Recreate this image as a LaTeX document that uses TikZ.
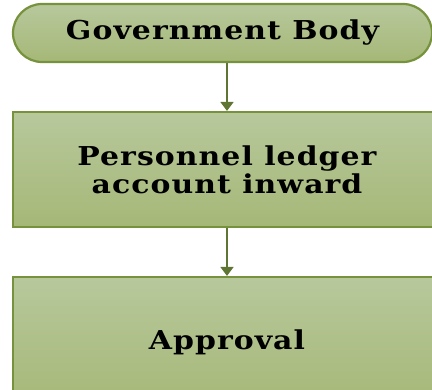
\documentclass[tikz,border=0pt]{standalone}
\usepackage{fontspec}
\setmainfont{DejaVu Serif}[FakeStretch=1.15, LetterSpace=4]
\usetikzlibrary{arrows.meta}
\definecolor{edge}{HTML}{76923C}
\definecolor{filltop}{HTML}{B7C89C}
\definecolor{fillbot}{HTML}{A6B877}
\definecolor{link}{HTML}{5F7533}

\begin{document}
\begin{tikzpicture}[x=1pt, y=1pt,
    stepbox/.style={draw=edge, line width=2.2pt, top color=filltop, bottom color=fillbot,
        minimum width=428pt, align=center, font=\bfseries\fontsize{26}{28}\selectfont},
    link/.style={draw=link, line width=1.8pt, -{Triangle[width=13pt,length=9pt]}}]
    \useasboundingbox (0,0) rectangle (432,390);
    \clip (0,0) rectangle (432,390);

    \node[stepbox, rounded corners=29pt, minimum width=419pt, minimum height=58pt] (gov) at (222.5,357) {Government Body};
    \node[stepbox, minimum height=115pt] (ledger) at (227,220.5) {Personnel ledger\\account inward};
    \node[stepbox, minimum height=130pt] (approval) at (227,48) {Approval};

    \draw[link] (gov.south -| ledger.north) to (ledger.north);
    \draw[link] (ledger) to (approval);
\end{tikzpicture}
\end{document}
